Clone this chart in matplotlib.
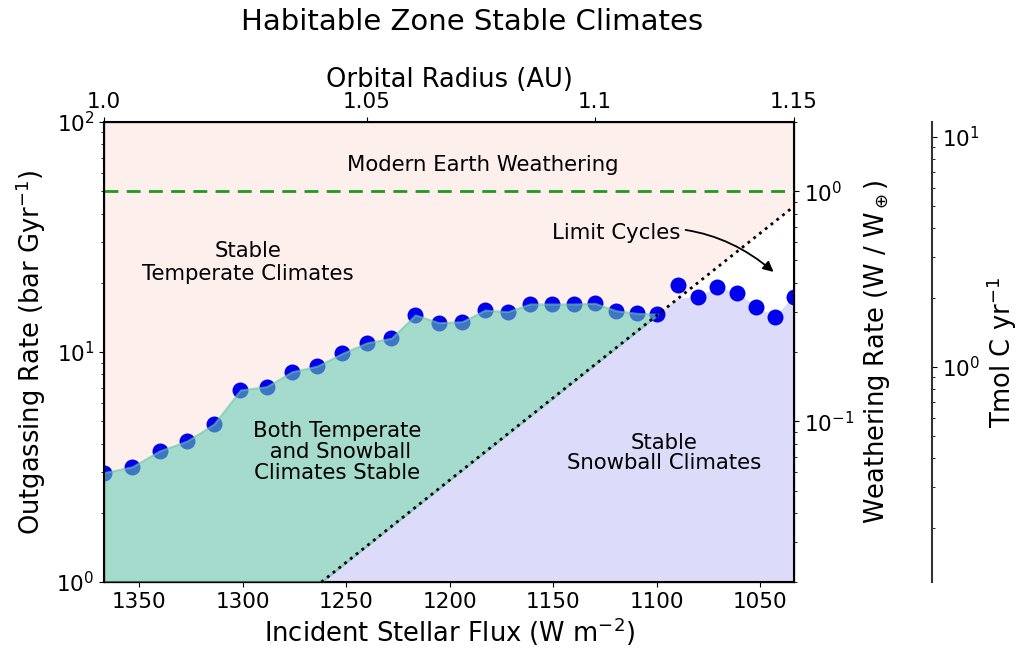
import numpy as np
import matplotlib
matplotlib.use("Agg")
import matplotlib.pyplot as plt
from matplotlib.ticker import FixedLocator, FixedFormatter, NullLocator

# ---------------- data ----------------
solar_constant = 1367.0
flux = np.array([1367.0, 1353.4, 1340.1, 1326.9, 1313.9, 1301.1, 1288.5, 1276.1,
                 1263.9, 1251.8, 1239.9, 1228.2, 1216.6, 1205.2, 1194.0, 1182.9,
                 1172.0, 1161.2, 1150.6, 1140.1, 1129.8, 1119.6, 1109.5, 1099.6,
                 1089.8, 1080.1, 1070.6, 1061.2, 1051.9, 1042.7, 1033.6])
outgassing = np.array([2.99, 3.17, 3.72, 4.10, 4.86, 6.84, 7.07, 8.21, 8.69, 9.87,
                       10.97, 11.47, 14.49, 13.41, 13.54, 15.22, 14.97, 16.17, 16.17,
                       16.17, 16.28, 15.12, 14.73, 14.59, 19.56, 17.29, 19.11, 18.10,
                       15.74, 14.24, 17.39])
n_bistable = 24          # points (from the left) belonging to the bistable region
limit_flux = [1262.0, 1033.6]
limit_rate = [1.0, 43.0]
modern_outgassing = 50.0
radius_ticks = [1.0, 1.05, 1.1, 1.15]
radius_labels = ["1.0", "1.05", "1.1", "1.15"]
tmol_per_bar_gyr = 0.116

# limit-cycle boundary evaluated at the data fluxes (straight line in log space)
lf = np.array(limit_flux)
lr = np.log10(limit_rate)
line_vals = 10 ** (lr[0] + (lf[0] - flux) * (lr[1] - lr[0]) / (lf[0] - lf[1]))

# ---------------- figure ----------------
fig = plt.figure(figsize=(10.23, 6.54), dpi=100)
ax = fig.add_axes([0.1017, 0.110, 0.6745, 0.7035])
ax.set_facecolor("#fdf0ec")
ax.set_yscale("log")
ax.set_xlim(flux[0], flux[-1])
ax.set_ylim(1, 100)

lo = 1e-3
fb, ob, lb = flux[:n_bistable], outgassing[:n_bistable], line_vals[:n_bistable]
low_edge = np.minimum(line_vals, outgassing)
# white base under the bistable band, and the limit-cycle (white) wedge
ax.fill_between(fb, lo, ob, color="white", lw=0, zorder=1)
ax.fill_between(flux, low_edge, line_vals, color="white", lw=0, zorder=1)
ax.fill_between(flux, lo, low_edge, color="#dcdcfa", lw=0, zorder=1.5)
ax.plot(flux, outgassing, ls="none", marker="o", ms=11.5, color="#0000ee", mec="none", zorder=2)
ax.fill_between(fb, lb, ob, facecolor="#68c4aa", edgecolor="#68c4aa", alpha=0.6, lw=1.5, zorder=3)
ax.plot(limit_flux, limit_rate, ls=":", color="black", lw=2, zorder=4)
ax.axhline(modern_outgassing, ls="--", color="#1e9a1e", lw=2, dashes=(5, 3), zorder=4)

fs_tick = 15.5
fs_text = 15.3
fs_lab = 18.5
ax.tick_params(axis="both", which="both", direction="out", labelsize=fs_tick)
ax.set_xticks([1350, 1300, 1250, 1200, 1150, 1100, 1050])
ax.set_xlabel("Incident Stellar Flux (W m$^{-2}$)", fontsize=fs_lab, labelpad=3)
ax.set_ylabel("Outgassing Rate (bar Gyr$^{-1}$)", fontsize=fs_lab, labelpad=6)
for s in ax.spines.values():
    s.set_linewidth(1.5)

ax.text(1183.8, 65, "Modern Earth Weathering", ha="center", va="center", fontsize=fs_text, zorder=5)
ax.text(1297.6, 24.4, "Stable\nTemperate Climates", ha="center", va="center", fontsize=fs_text, zorder=5)
ax.text(1254.2, 3.67, "Both Temperate\n and Snowball\nClimates Stable", ha="center", va="center",
        fontsize=fs_text, zorder=5, linespacing=1.05)
ax.text(1096.5, 3.64, "Stable\nSnowball Climates", ha="center", va="center", fontsize=fs_text,
        zorder=5, linespacing=1.05)
ax.annotate("Limit Cycles", xy=(1043.5, 22.3), xytext=(1119.7, 32.9), ha="center", va="center",
            fontsize=fs_text, zorder=6,
            arrowprops=dict(arrowstyle="-|>", color="black", lw=1.3,
                            connectionstyle="arc3,rad=-0.25", shrinkA=2, shrinkB=0))

# top axis: orbital radius
top = ax.twiny()
top.set_xlim(ax.get_xlim())
top.xaxis.set_major_locator(FixedLocator([solar_constant / r ** 2 for r in radius_ticks]))
top.xaxis.set_major_formatter(FixedFormatter(radius_labels))
top.xaxis.set_minor_locator(NullLocator())
top.tick_params(direction="out", labelsize=fs_tick)
top.set_xlabel("Orbital Radius (AU)", fontsize=fs_lab, labelpad=4)

# right axis: weathering rate
right = ax.twinx()
right.set_yscale("log")
right.set_ylim(1 / modern_outgassing, 100 / modern_outgassing)
right.tick_params(axis="y", which="both", direction="out", labelsize=fs_tick)
right.set_ylabel("Weathering Rate (W / W$_\\oplus$)", fontsize=fs_lab, labelpad=6)

# far right: Tmol C / yr
far = ax.twinx()
far.set_yscale("log")
far.set_ylim(1 * tmol_per_bar_gyr, 100 * tmol_per_bar_gyr)
far.spines["right"].set_position(("axes", 1.2))
for k in ("left", "top", "bottom"):
    far.spines[k].set_visible(False)
far.spines["right"].set_color("#333333")
far.spines["right"].set_linewidth(1.5)
far.tick_params(axis="y", which="both", direction="out", labelsize=fs_tick)
far.set_ylabel("Tmol C yr$^{-1}$", fontsize=fs_lab, labelpad=3)
far.patch.set_visible(False)
right.patch.set_visible(False)
top.patch.set_visible(False)

fig.text(472 / 1023, 1 - 22 / 654, "Habitable Zone Stable Climates", ha="center", va="center", fontsize=21)

fig.savefig("out.png", dpi=100)
